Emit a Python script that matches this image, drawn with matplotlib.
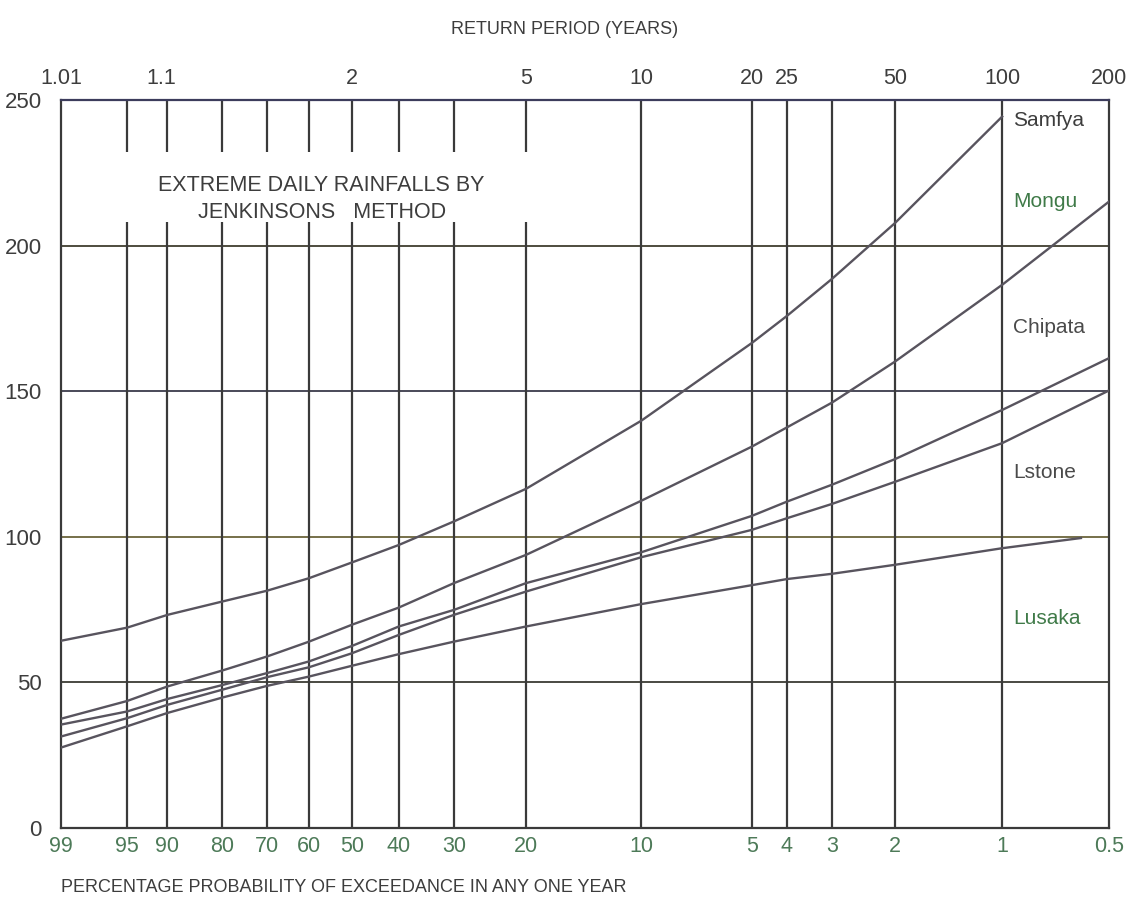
import numpy as np
import matplotlib
matplotlib.use("Agg")
import matplotlib.pyplot as plt

plt.rcParams['font.family'] = ['Liberation Sans', 'DejaVu Sans']

# percentage probability of exceedance (bottom axis)
pct = [99, 95, 90, 80, 70, 60, 50, 40, 30, 20, 10, 5, 4, 3, 2, 1, 0.5]
pct_labels = ["99", "95", "90", "80", "70", "60", "50", "40", "30", "20",
              "10", "5", "4", "3", "2", "1", "0.5"]
# return period (top axis)
ret = [1.01, 1.1, 2, 5, 10, 20, 25, 50, 100, 200]
ret_labels = ["1.01", "1.1", "2", "5", "10", "20", "25", "50", "100", "200"]

# rainfall (mm) read at each probability line
samfya_pct = [99, 95, 90, 80, 70, 60, 50, 40, 30, 20, 10, 5, 4, 3, 2, 1]
samfya = [64.2, 68.7, 73.1, 77.7, 81.4, 85.7, 91.1, 97.1, 105.2, 116.4,
          139.8, 166.5, 175.8, 188.5, 207.7, 244.3]
mongu = [37.4, 43.5, 48.5, 54.0, 58.8, 63.9, 69.7, 75.6, 84.0, 93.7,
         112.3, 130.9, 137.5, 146.0, 160.1, 186.5, 215.1]
chipata = [35.4, 39.9, 44.2, 49.0, 53.1, 57.1, 62.4, 69.1, 74.8, 84.0,
           94.6, 107.1, 112.0, 117.8, 126.6, 143.5, 161.3]
lstone = [31.3, 37.6, 42.2, 47.4, 51.7, 55.1, 59.9, 66.2, 73.1, 81.1,
          92.9, 102.3, 106.3, 111.2, 118.8, 132.1, 150.2]
lusaka_pct = [99, 95, 90, 80, 70, 60, 50, 40, 30, 20, 10, 5, 4, 3, 2, 1, 0.6]
lusaka = [27.5, 34.8, 39.4, 44.7, 48.7, 51.9, 55.6, 59.6, 63.9, 69.1,
          76.8, 83.3, 85.4, 87.2, 90.3, 96.0, 99.5]

stations = ["Samfya", "Mongu", "Chipata", "Lstone", "Lusaka"]
station_y = [243, 215, 172, 122, 72]
station_colors = ["#3d3d3d", "#3f7a48", "#4a4a4a", "#4a4a4a", "#3f7a48"]

# lines with a gap behind the caption
gapped = [95, 90, 80, 70, 60, 50, 40, 30, 20]
full = [10, 5, 4, 3, 2, 1]


def gumbel(p):
    # reduced variate for exceedance probability in percent
    F = 1 - np.asarray(p, dtype=float) / 100.0
    return -np.log(-np.log(F))


grid_c = "#3a3a3a"
curve_c = "#58545e"

fig = plt.figure(figsize=(11.29, 9.05), dpi=100)
ax = fig.add_axes([0.054, 0.0855, 0.9283, 0.804])
ax.set_xlim(gumbel(99), gumbel(0.5))
ax.set_ylim(0, 250)

# grid
h_colors = {50: "#4a4a42", 100: "#76704a", 150: "#4a4a58", 200: "#4e4c3e"}
for v, c in h_colors.items():
    ax.axhline(v, color=c, lw=1.4, zorder=1)
for p in full:
    ax.axvline(gumbel(p), color=grid_c, lw=1.6, zorder=1)
for p in gapped:
    ax.vlines(gumbel(p), 0, 208, color=grid_c, lw=1.6, zorder=1)
    ax.vlines(gumbel(p), 232, 250, color=grid_c, lw=1.6, zorder=1)

# curves
ax.plot(gumbel(samfya_pct), samfya, color=curve_c, lw=1.7, zorder=3)
ax.plot(gumbel(pct), mongu, color=curve_c, lw=1.7, zorder=3)
ax.plot(gumbel(pct), chipata, color=curve_c, lw=1.7, zorder=3)
ax.plot(gumbel(pct), lstone, color=curve_c, lw=1.7, zorder=3)
ax.plot(gumbel(lusaka_pct), lusaka, color=curve_c, lw=1.7, zorder=3)

# station names
for name, yv, c in zip(stations, station_y, station_colors):
    ax.text(gumbel(0.93), yv, name, color=c, fontsize=15, va="center", ha="left")

# caption
xc = gumbel(57)
ax.text(xc, 220.5, "EXTREME DAILY RAINFALLS BY", fontsize=15.5, color="#3d3d3d",
        ha="center", va="center")
ax.text(xc, 211.3, "JENKINSONS   METHOD", fontsize=15.5, color="#3d3d3d",
        ha="center", va="center")

# axes styling
for s in ["left", "bottom", "right"]:
    ax.spines[s].set_color(grid_c)
    ax.spines[s].set_linewidth(1.6)
ax.spines["top"].set_color("#3c3c5c")
ax.spines["top"].set_linewidth(1.6)

ax.set_yticks([0, 50, 100, 150, 200, 250])
ax.tick_params(axis="y", length=0, pad=14, labelsize=16, labelcolor="#3d3d3d")
ax.set_xticks(gumbel(pct))
ax.set_xticklabels(pct_labels)
ax.tick_params(axis="x", length=0, pad=6, labelsize=15.5, labelcolor="#4d7a58")

top = ax.twiny()
top.set_xlim(ax.get_xlim())
top.set_xticks(gumbel([100.0 / t for t in ret]))
top.set_xticklabels(ret_labels)
top.tick_params(axis="x", length=0, pad=8, labelsize=15.5, labelcolor="#3d3d3d")
for s in top.spines.values():
    s.set_visible(False)

fig.text(0.5, 0.967, "RETURN PERIOD (YEARS)", fontsize=13, color="#3d3d3d",
         ha="center", va="center")
fig.text(0.054, 0.019, "PERCENTAGE PROBABILITY OF EXCEEDANCE IN ANY ONE YEAR",
         fontsize=13, color="#3d3d3d", ha="left", va="center")

fig.savefig("out.png", dpi=100)
